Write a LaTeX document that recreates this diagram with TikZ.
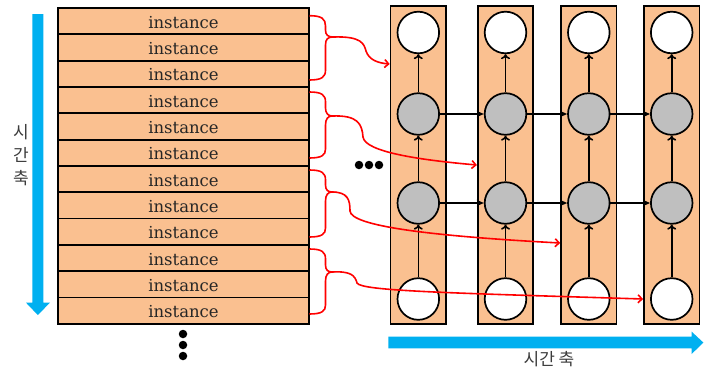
\documentclass[tikz,border=0pt]{standalone}
\usepackage{fontspec}
\newfontfamily\krfont{Noto Sans CJK KR}
\newfontfamily\instfont{DejaVu Serif}
\usetikzlibrary{arrows.meta}
\definecolor{peach}{RGB}{250,192,144}
\definecolor{skyb}{RGB}{0,176,240}
\definecolor{cgray}{RGB}{191,191,191}
\definecolor{lbl}{RGB}{60,60,60}
\begin{document}
\begin{tikzpicture}[x=1pt,y=-1pt,
  rowbox/.style={draw, line width=1.7pt, fill=peach, minimum width=251pt, minimum height=26.33pt, inner sep=0pt, text height=14pt, text depth=0pt, text=black!85, font=\instfont\fontsize{16.5}{16.5}\selectfont},
  colbox/.style={draw, line width=1.7pt, fill=peach, minimum width=55.5pt, minimum height=318pt, inner sep=0pt},
  wcirc/.style={circle, draw, line width=1.7pt, fill=white, minimum size=41.6pt, inner sep=0pt},
  gcirc/.style={circle, draw, line width=1.7pt, fill=cgray, minimum size=41.6pt, inner sep=0pt},
  varr/.style={line width=1.6pt, -{To[length=5pt,width=9pt]}},
  harr/.style={line width=1.6pt, -{Stealth[length=7pt,width=6pt]}},
  redl/.style={red, line width=1.6pt},
  reda/.style={red, line width=1.6pt, -{Straight Barb[length=4pt,width=8pt]}},
  dot/.style={circle, fill=black, minimum size=8.5pt, inner sep=0pt},
  klabel/.style={text=lbl, font=\krfont\fontsize{17}{23}\selectfont, align=center, inner sep=0pt}
]
\useasboundingbox (0,0) rectangle (711,372);

% blue time arrows
\fill[skyb] (32.3,14) -- (43.3,14) -- (43.3,302.7) -- (50,302.7) -- (37.8,315) -- (26,302.7) -- (32.3,302.7) -- cycle;
\fill[skyb] (388.3,336.7) -- (691.7,336.7) -- (691.7,331.7) -- (703.3,342.5) -- (691.7,354) -- (691.7,348.3) -- (388.3,348.3) -- cycle;
\node[klabel] (vlab) at (21,155) {시\\간\\축};
\node[klabel] (hlab) at (549,359) {시간 축};

% instance table
\foreach \i in {1,...,12}
  \node[rowbox] (r\i) at (183.5,{8+26.33*(\i-0.5)}) {instance};
\node[dot] (v1) at (183,334) {};
\node[dot] (v2) at (183,345) {};
\node[dot] (v3) at (183,356) {};

% ellipsis
\node[dot] (h1) at (359,165) {};
\node[dot] (h2) at (369,165) {};
\node[dot] (h3) at (379,165) {};

% columns
\foreach \j/\x in {1/418.3,2/505.5,3/588.8,4/671.7}{
  \node[colbox] (col\j) at (\x,165) {};
  \node[wcirc] (a\j) at (\x,32.5) {};
  \node[gcirc] (b\j) at (\x,114) {};
  \node[gcirc] (c\j) at (\x,203) {};
  \node[wcirc] (d\j) at (\x,299) {};
  \draw[varr] (d\j) -- (c\j);
  \draw[varr] (c\j) -- (b\j);
  \draw[varr] (b\j) -- (a\j);
}
\draw[harr] (b1) -- (b2);
\draw[harr] (b2) -- (b3);
\draw[harr] (b3) -- (b4);
\draw[harr] (c1) -- (c2);
\draw[harr] (c2) -- (c3);
\draw[harr] (c3) -- (c4);

% brace tips and arrow ends
\coordinate (t1) at (333,37);
\coordinate (t2) at (332,116);
\coordinate (t3) at (332,192);
\coordinate (t4) at (332,272);
\coordinate (e1) at (col1.west |- 0,64);
\coordinate (e2) at (col2.west |- 0,165);
\coordinate (e3) at (col3.west |- 0,243);
\coordinate (e4) at (col4.west |- 0,299);

% braces
\draw[redl] (309.5,15.7) .. controls (322,15.7) and (325.5,19) .. (325.5,26) -- (325.5,30)
  .. controls (325.5,35) and (328,37) .. (t1)
  .. controls (328,37) and (325.5,39) .. (325.5,45) -- (325.5,70)
  .. controls (325.5,77) and (322,80) .. (309.5,80);
\draw[redl] (309.5,92) .. controls (322,92) and (325.5,95) .. (325.5,102) -- (325.5,108)
  .. controls (325.5,113) and (328,116) .. (t2)
  .. controls (328,116) and (325.5,119) .. (325.5,125) -- (325.5,149)
  .. controls (325.5,155) and (322,158) .. (309.5,158);
\draw[redl] (309.5,170) .. controls (322,170) and (325.5,173) .. (325.5,180) -- (325.5,185)
  .. controls (325.5,190) and (328,192) .. (t3)
  .. controls (328,192) and (325.5,195) .. (325.5,201) -- (325.5,228)
  .. controls (325.5,234) and (322,237) .. (309.5,237);
\draw[redl] (309.5,249) .. controls (322,249) and (325.5,252) .. (325.5,259) -- (325.5,265)
  .. controls (325.5,270) and (328,272) .. (t4)
  .. controls (328,272) and (325.5,275) .. (325.5,281) -- (325.5,305)
  .. controls (325.5,311) and (322,314) .. (309.5,314);

% connectors
\draw[reda] (t1) .. controls (362,36) and (364,44) .. (366,51) .. controls (369,60) and (378,63) .. (e1);
\draw[reda] (t2) .. controls (358,115) and (362,124) .. (363,137) .. controls (365,152) and (420,160) .. (e2);
\draw[reda] (t3) .. controls (348,192) and (350,200) .. (350,211) .. controls (351,226) and (430,236) .. (e3);
\draw[reda] (t4) .. controls (350,271) and (355,275) .. (357,283) .. controls (361,291) and (450,293) .. (e4);
\end{tikzpicture}
\end{document}
